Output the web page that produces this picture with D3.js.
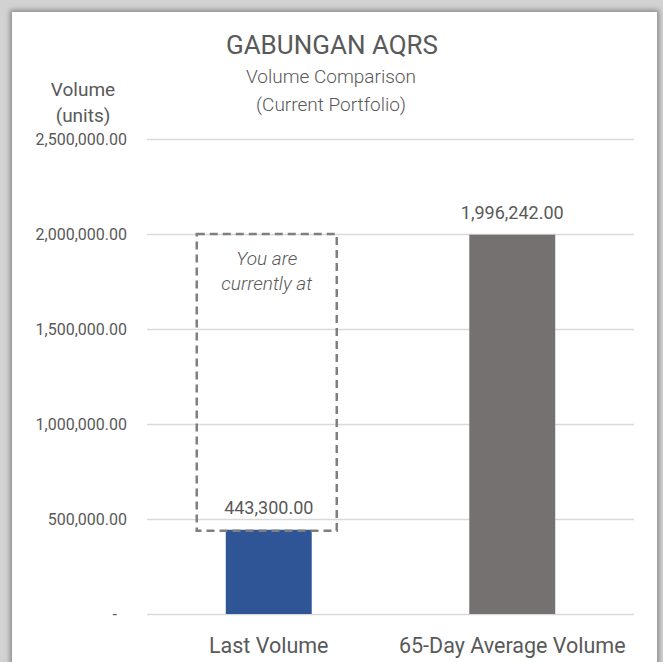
<!DOCTYPE html>
<html lang="en">
<head>
  <meta charset="UTF-8">
  <script src="https://d3js.org/d3.v7.min.js"></script>
  <title>Volume Comparison</title>
  <style>
    body {
      margin: 0;
      background: #d2d2d2;
      font-family: Roboto, 'Open Sans', sans-serif;
      overflow: hidden;
    }
    #panel {
      position: absolute;
      left: 12px;
      top: 12px;
      width: 645px;
      height: 670px;
      background: #fff;
      box-shadow: 0 0 5px 2px rgba(0,0,0,0.35);
    }
    #chart {
      position: absolute;
      left: 0;
      top: 0;
    }
    text { fill: #595959; }
  </style>
</head>
<body>
<div id="panel"></div>
<div id="chart"></div>
<script>
  // data
  let categories = ['Last Volume', '65-Day Average Volume']
  let volumes = [443300, 1996242]
  let barColors = ['#2f5597', '#767171']
  let yTicks = [0, 500000, 1000000, 1500000, 2000000, 2500000]
  let markerValue = 2000000   // top of the "you are currently at" box

  let width = 663, height = 662
  let margin = {top: 139, bottom: 48, left: 147, right: 29}

  let svg = d3.select('#chart').append('svg')
          .attr('width', width)
          .attr('height', height)

  let x = d3.scaleBand().domain(categories)
          .range([margin.left, width - margin.right])
          .paddingInner(0.647)
          .paddingOuter(0.3235)
  let y = d3.scaleLinear().domain([0, 2500000])
          .range([height - margin.bottom, margin.top])

  let fmt = d3.format(',.2f')

  //gridlines + tick labels
  let yAxis = d3.axisLeft(y)
          .tickValues(yTicks)
          .tickSize(-(width - margin.left - margin.right))
          .tickPadding(20)
          .tickFormat(d => d === 0 ? '-' : fmt(d))
  let ga = svg.append('g')
          .attr('transform', 'translate(' + margin.left + ',0)')
          .call(yAxis)
  ga.select('.domain').remove()
  ga.selectAll('.tick line').attr('stroke', '#d9d9d9').attr('stroke-width', 1.5)
  ga.selectAll('.tick text')
          .attr('fill', '#595959')
          .attr('dx', d => d === 0 ? -10 : 0)
          .style('font-family', 'Roboto')
          .style('font-size', '16px')

  let data = categories.map((c, i) => ({cat: c, value: volumes[i], color: barColors[i]}))

  // bars
  svg.selectAll('rect.bar')
          .data(data)
          .join('rect')
          .attr('class', 'bar')
          .attr('x', d => x(d.cat))
          .attr('width', x.bandwidth())
          .attr('y', d => y(d.value))
          .attr('height', d => y(0) - y(d.value))
          .attr('fill', d => d.color)

  // value labels
  svg.selectAll('text.val')
          .data(data)
          .join('text')
          .attr('class', 'val')
          .attr('x', d => x(d.cat) + x.bandwidth() / 2)
          .attr('y', d => y(d.value) - 16)
          .attr('text-anchor', 'middle')
          .style('font-size', '18px')
          .text(d => fmt(d.value))

  // category labels
  svg.selectAll('text.cat')
          .data(categories)
          .join('text')
          .attr('class', 'cat')
          .attr('x', d => x(d) + x.bandwidth() / 2)
          .attr('y', 653)
          .attr('text-anchor', 'middle')
          .style('font-size', '21.5px')
          .text(d => d)

  // dashed box above the last volume bar
  let cx = x(categories[0]) + x.bandwidth() / 2 - 2
  let boxW = 140
  svg.append('rect')
          .attr('x', cx - boxW / 2)
          .attr('y', y(markerValue))
          .attr('width', boxW)
          .attr('height', y(volumes[0]) - y(markerValue) + 1)
          .attr('fill', 'none')
          .attr('stroke', '#7f7f7f')
          .attr('stroke-width', 2.5)
          .attr('stroke-dasharray', '8,5')

  svg.append('text')
          .attr('x', cx)
          .attr('y', y(markerValue) + 31)
          .attr('text-anchor', 'middle')
          .style('font-size', '19px')
          .style('font-style', 'italic')
          .style('font-weight', 300)
          .selectAll('tspan')
          .data(['You are', 'currently at'])
          .join('tspan')
          .attr('x', cx)
          .attr('dy', (d, i) => i ? 25 : 0)
          .text(d => d)

  // titles
  svg.append('text')
          .attr('x', 332).attr('y', 54)
          .attr('text-anchor', 'middle')
          .style('font-size', '26px')
          .text('GABUNGAN AQRS')

  svg.append('text')
          .attr('text-anchor', 'middle')
          .style('font-size', '19px')
          .style('font-weight', 300)
          .selectAll('tspan')
          .data(['Volume Comparison', '(Current Portfolio)'])
          .join('tspan')
          .attr('x', 331)
          .attr('y', (d, i) => 83 + i * 28)
          .text(d => d)

  svg.append('text')
          .attr('text-anchor', 'middle')
          .style('font-size', '19px')
          .selectAll('tspan')
          .data(['Volume', '(units)'])
          .join('tspan')
          .attr('x', 83)
          .attr('y', (d, i) => 96 + i * 26)
          .text(d => d)
</script>
</body>
</html>
